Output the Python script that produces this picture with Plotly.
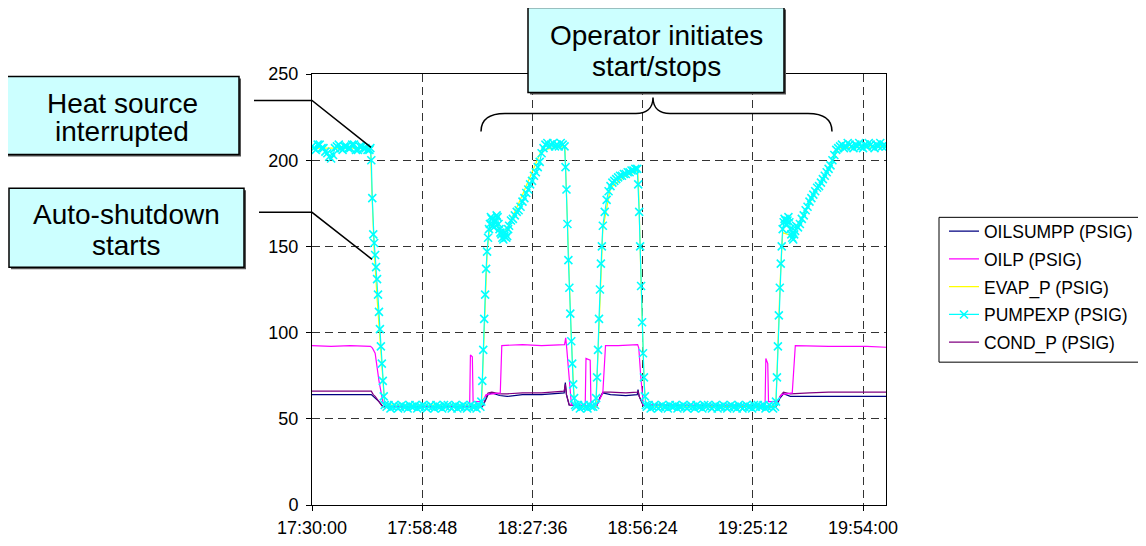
import pandas as pd
import plotly.graph_objects as go

# ---------------- data (minutes after 17:30:00, PSIG) ----------------
pump_t = [0, 0.5, 1, 1.5, 2, 2.5, 3, 3.5, 4, 4.5, 5, 5.5, 6, 6.5, 7, 7.5, 8, 8.5, 9, 9.5, 10, 10.5, 11, 11.5, 12, 12.5, 13, 13.5, 14, 14.5, 15,
          15.25, 15.5, 15.75, 16, 16.25, 16.5, 16.75, 17, 17.25, 17.5, 17.75, 18, 18.25, 18.5, 18.75, 19,
          19.5, 20, 20.5, 21, 21.5, 22, 22.5, 23, 23.5, 24, 24.5, 25, 25.5, 26, 26.5, 27, 27.5, 28, 28.5, 29, 29.5, 30, 30.5, 31, 31.5,
          32, 32.5, 33, 33.5, 34, 34.5, 35, 35.5, 36, 36.5, 37, 37.5, 38, 38.5, 39, 39.5, 40, 40.5, 41, 41.5, 42, 42.5, 43, 43.5, 44,
          44.25, 44.5, 44.75, 45, 45.25, 45.5, 45.75, 46, 46.25, 46.5, 46.75, 47, 47.25, 47.5, 47.75, 48, 48.25, 48.5, 48.75, 49,
          49.25, 49.5, 49.75, 50, 50.25, 50.5, 50.75, 51, 51.25, 51.5,
          52, 52.5, 53, 53.5, 54, 54.5, 55, 55.5, 56, 56.5, 57, 57.5, 58, 58.5, 59, 59.5,
          60, 60.5, 61, 61.5, 62, 62.5, 63, 63.5, 64, 64.5, 65, 65.5, 66,
          66.25, 66.5, 66.75, 67, 67.25, 67.5, 67.75, 68, 68.25, 68.5, 68.75,
          69, 69.5, 70, 70.5, 71, 71.5, 72, 72.5, 73, 73.5, 74,
          74.25, 74.5, 74.75, 75, 75.25, 75.5, 75.75, 76, 76.5, 77, 77.5, 78, 78.5, 79, 79.5, 80, 80.5, 81, 81.5, 82,
          82.5, 83, 83.5, 84, 84.5, 85,
          85.25, 85.5, 85.75, 86, 86.25, 86.5, 86.75, 87, 87.25,
          87.5, 88, 88.5, 89, 89.5, 90, 90.5, 91, 91.5, 92,
          92.5, 93, 93.5, 94, 94.5, 95, 95.5, 96, 96.5, 97,
          97.5, 98, 98.5, 99, 99.5, 100, 100.5, 101, 101.5, 102,
          102.5, 103, 103.5, 104, 104.5, 105, 105.5, 106, 106.5, 107,
          107.5, 108, 108.5, 109, 109.5, 110, 110.5, 111, 111.5, 112,
          112.5, 113, 113.5, 114, 114.5, 115, 115.5, 116, 116.5, 117,
          117.5, 118, 118.5, 119, 119.5, 120, 120.5, 121,
          121.25, 121.5, 121.75, 122, 122.25, 122.5, 122.75, 123, 123.25, 123.5, 123.75, 124, 124.25, 124.5, 124.75,
          125, 125.25, 125.5, 125.75, 126, 126.25, 126.5,
          127, 127.5, 128, 128.5, 129, 129.5, 130, 130.5, 131, 131.5, 132, 132.5, 133, 133.5, 134, 134.5, 135, 135.5, 136, 136.5,
          137, 137.5, 138, 138.5, 139, 139.5, 140, 140.5, 141, 141.5, 142, 142.5, 143, 143.5, 144, 144.5, 145, 145.5, 146, 146.5,
          147, 147.5, 148, 148.5, 149, 149.5, 150]
pump_v = [208, 207, 206, 209, 209, 207, 207, 205, 204, 202, 201, 203, 207, 208, 209, 207, 206, 208, 208, 207, 207, 209, 209, 206, 206, 208, 208, 207, 207, 206, 206,
          207, 200, 178, 157, 152, 145, 138, 131, 122, 112, 102, 92, 82, 72, 63, 58,
          57, 58, 56, 57, 58, 57, 56, 57, 58, 57, 57, 56, 58, 57, 57, 58, 56, 57, 57, 58, 57, 56, 57, 58, 57,
          56, 58, 57, 57, 56, 58, 57, 58, 57, 56, 57, 58, 56, 57, 57, 58, 57, 56, 57, 58, 57, 57, 56, 58, 57,
          60, 72, 90, 108, 122, 137, 147, 155, 160, 163, 167, 166, 162, 161, 164, 165, 168, 167, 163, 160,
          158, 157, 155, 154, 156, 158, 155, 156, 160, 162,
          165, 166, 168, 170, 171, 173, 176, 178, 181, 183, 186, 188, 191, 193, 196, 199,
          204, 207, 209, 210, 208, 209, 210, 208, 209, 208, 210, 209, 208,
          196, 183, 163, 142, 126, 111, 95, 82, 70, 62, 58,
          57, 58, 56, 57, 58, 57, 56, 58, 57, 57, 58,
          62, 74, 90, 108, 125, 140, 150, 162, 170, 177, 182, 185, 187, 188, 189, 190, 191, 191, 192, 192,
          193, 193, 194, 194, 195, 195,
          186, 170, 150, 127, 106, 88, 74, 63, 58,
          57, 58, 56, 57, 58, 57, 56, 57, 58, 57,
          57, 56, 58, 57, 57, 58, 56, 57, 57, 58,
          57, 56, 57, 58, 57, 56, 58, 57, 57, 56,
          58, 57, 58, 57, 56, 57, 58, 56, 57, 57,
          58, 57, 56, 57, 58, 57, 57, 56, 58, 57,
          56, 57, 58, 57, 57, 56, 58, 57, 58, 57,
          57, 58, 56, 57, 58, 57, 56, 57,
          60, 74, 92, 110, 126, 140, 150, 160, 164, 166, 165, 163, 165, 167, 164,
          160, 157, 155, 154, 157, 159, 162,
          161, 163, 166, 168, 171, 173, 176, 178, 180, 182, 184, 185, 187, 189, 191, 193, 195, 197, 200, 203,
          206, 207, 208, 209, 207, 208, 210, 209, 208, 207, 209, 208, 210, 208, 207, 209, 208, 210, 209, 208,
          207, 209, 208, 210, 208, 209, 208]

oilp_t = [0, 5, 10, 15.3, 15.8, 16.5, 17.5, 18.5, 19.5, 41.0, 41.2, 41.4, 41.9, 42.1, 44.5, 45.5,
          49.2, 49.6, 55, 60, 66.0, 66.3, 66.6, 67.2, 67.8, 71.4, 71.6, 72.7, 72.9, 74.5, 75.5,
          76.0, 76.7, 80, 85.1, 85.4, 85.9, 86.6, 118.4, 118.6, 119.1, 119.3, 121.5, 122.7,
          125.5, 126.3, 135, 145, 150]
oilp_v = [92.5, 92, 92.5, 92, 91, 88, 72, 60, 57, 57, 58, 87, 86, 60, 60, 64,
          65, 92.5, 93, 92.5, 93, 97, 90, 72, 58, 58, 85, 84, 58, 58, 63,
          65, 92.5, 92.5, 93, 91, 75, 58, 58, 85, 82, 60, 60, 64,
          65, 92.5, 92, 92, 91.5]

sump_t = [0, 15.5, 16.0, 16.5, 17.5, 18.5, 44.5, 45.2, 46.0, 47, 49, 51, 55, 60, 65, 65.9, 66.2, 66.5,
          67.2, 74.3, 75.2, 76.0, 78, 82, 85, 85.2, 85.5, 86.5, 121.3, 122.3, 123.2, 125, 130, 140, 150]
sump_v = [64, 64, 63, 62, 60, 57, 57, 60, 64, 65, 63.5, 63, 64, 64, 64.5, 65, 71, 64,
          58, 57, 62, 65, 64, 63.5, 64, 67, 63, 58, 57, 62, 64.5, 63, 63, 63, 63]

evap_t = [0, 15.3, 15.6, 16.2, 17.0, 18.0, 19.0, 44.3, 44.6, 45.2, 45.8, 46.5, 48, 50, 52, 55, 58, 60,
          66.1, 66.4, 67.0, 67.7, 68.5, 69, 74.2, 74.6, 75.3, 76, 78, 82, 85.1, 85.4, 86, 86.8, 87.3,
          121.2, 121.6, 122.3, 123, 125.5, 130, 135, 137.5, 150]
evap_v = [207, 207, 185, 150, 120, 88, 58, 58, 75, 115, 148, 162, 164, 156, 165, 180, 195, 206,
          208, 188, 145, 100, 62, 57, 57, 80, 128, 160, 184, 191, 194, 180, 128, 70, 57,
          57, 82, 128, 158, 156, 175, 195, 207, 208]

cond_t = [0, 15.5, 16.0, 16.5, 17.5, 18.5, 44.5, 45.2, 46.0, 47, 49, 51, 55, 60, 65, 65.9, 66.2, 66.5,
          67.2, 74.3, 75.2, 76.0, 78, 82, 85, 85.2, 85.5, 86.5, 121.3, 122.3, 123.2, 125, 130, 135, 140, 150]
cond_v = [66, 66, 64, 63, 60, 57, 57, 61, 65, 65.5, 64.5, 64.5, 65, 65, 65.5, 66, 70, 64,
          58, 57, 62, 65.5, 65.5, 65, 65.5, 66, 63, 58, 57, 63, 65.5, 64.5, 65, 65.5, 65.5, 65.5]

series_names = ["OILSUMPP (PSIG)", "OILP (PSIG)", "EVAP_P (PSIG)", "PUMPEXP (PSIG)", "COND_P (PSIG)"]
tick_labels = ["17:30:00", "17:58:48", "18:27:36", "18:56:24", "19:25:12", "19:54:00"]
y_ticks = [0, 50, 100, 150, 200, 250]

# ---------------- helpers ----------------
DAY = "2024-01-01 "
base = pd.Timestamp(DAY + "17:30:00")


def to_x(t):
    return base + pd.to_timedelta(t, unit="min")


# page-pixel geometry (the page body has an 8px margin)
OFF = 8
PL, PR, PT, PB = 312, 886, 73.5, 505
W, H = 1138, 530
ML, MT = PL - OFF, PT - OFF
MR, MB = W - (PR - OFF), H - (PB - OFF)


def X(px):
    return (px - PL) / (PR - PL)


def Y(py):
    return (PB - py) / (PB - PT)


FONT = "Liberation Sans, Arial, sans-serif"

fig = go.Figure()
fig.add_trace(go.Scatter(x=to_x(sump_t), y=sump_v, name=series_names[0], mode="lines",
                         line=dict(color="#000080", width=1.2), legendrank=1, legendgroup="a"))
fig.add_trace(go.Scatter(x=to_x(cond_t), y=cond_v, name=series_names[4], mode="lines",
                         line=dict(color="#800080", width=1.2), legendrank=5, legendgroup="e"))
fig.add_trace(go.Scatter(x=to_x(oilp_t), y=oilp_v, name=series_names[1], mode="lines",
                         line=dict(color="#FF00FF", width=1.2), legendrank=2, legendgroup="b"))
fig.add_trace(go.Scatter(x=to_x(evap_t), y=evap_v, name=series_names[2], mode="lines",
                         line=dict(color="#FFFF00", width=1.2), legendrank=3, legendgroup="c"))
fig.add_trace(go.Scatter(x=to_x(pump_t), y=pump_v, name=series_names[3], mode="lines+markers",
                         line=dict(color="#00FFFF", width=1.2),
                         marker=dict(symbol="x-thin", size=8, color="#00FFFF",
                                     line=dict(color="#00FFFF", width=1.6)),
                         legendrank=4, legendgroup="d"))

shapes = []
# legend frame
shapes.append(dict(type="rect", xref="paper", yref="paper", x0=X(939), x1=X(1139),
                   y0=Y(217), y1=Y(362), line=dict(color="black", width=1), fillcolor="white",
                   layer="below"))
boxes = [(5, 76, 239, 154), (9, 188, 244, 267), (528, 7, 784, 92)]
for (x0, y0, x1, y1) in boxes:
    shapes.append(dict(type="rect", xref="paper", yref="paper", x0=X(x0 + 2), x1=X(x1 + 2),
                       y0=Y(y0 + 2), y1=Y(y1 + 2), line=dict(width=0), fillcolor="#555555", layer="above"))
    shapes.append(dict(type="rect", xref="paper", yref="paper", x0=X(x0), x1=X(x1),
                       y0=Y(y0), y1=Y(y1), line=dict(color="black", width=1.5),
                       fillcolor="#CCFFFF", layer="above"))


def path(points_cmds):
    out = []
    for cmd, pts in points_cmds:
        coords = " ".join(f"{X(px):.5f},{Y(py):.5f}" for px, py in pts)
        out.append(f"{cmd} {coords}")
    return " ".join(out)


leader1 = path([("M", [(254, 100)]), ("L", [(312, 100)]), ("L", [(371, 147)])])
leader2 = path([("M", [(259, 212)]), ("L", [(312, 212)]), ("L", [(372, 259)])])
brace = path([("M", [(481, 131)]), ("C", [(481, 118), (490, 113), (505, 113)]), ("L", [(636, 113)]),
              ("C", [(646, 113), (653, 108), (653, 97)]), ("C", [(653, 108), (660, 113), (670, 113)]),
              ("L", [(808, 113)]), ("C", [(823, 113), (832, 118), (832, 131)])])
for p in (leader1, leader2, brace):
    shapes.append(dict(type="path", xref="paper", yref="paper", path=p,
                       line=dict(color="black", width=1.5), layer="above"))

annotations = []
texts = [("Heat source", 122, 103), ("interrupted", 122, 131),
         ("Auto-shutdown", 126, 214), ("starts", 126, 245),
         ("Operator initiates", 656, 35), ("start/stops", 656, 66)]
for txt, px, py in texts:
    annotations.append(dict(text=txt, x=X(px), y=Y(py), xref="paper", yref="paper",
                            xanchor="center", yanchor="middle", showarrow=False,
                            font=dict(family=FONT, size=28, color="black")))

fig.update_layout(
    width=W, height=H,
    margin=dict(l=ML, r=MR, t=MT, b=MB, autoexpand=False),
    paper_bgcolor="white", plot_bgcolor="white",
    font=dict(family=FONT, size=18, color="black"),
    showlegend=True,
    legend=dict(x=X(944), y=Y(213), xanchor="left", yanchor="top",
                bgcolor="rgba(0,0,0,0)", borderwidth=0, tracegroupgap=2,
                font=dict(family=FONT, size=17.5, color="black")),
    shapes=shapes,
    annotations=annotations,
)
fig.update_xaxes(
    range=[DAY + "17:30:00", DAY + "20:00:00"],
    tickmode="array", tickvals=[DAY + s for s in tick_labels], ticktext=tick_labels,
    showgrid=True, gridcolor="#333333", griddash="8px,5px", gridwidth=1,
    showline=True, linecolor="black", linewidth=1, mirror=True,
    ticks="outside", ticklen=5, tickcolor="black", zeroline=False, ticklabelstandoff=1,
)
fig.update_yaxes(
    range=[0, 250], tickmode="array", tickvals=y_ticks,
    showgrid=True, gridcolor="#333333", griddash="8px,5px", gridwidth=1,
    showline=True, linecolor="black", linewidth=1, mirror=True,
    ticks="outside", ticklen=5, tickcolor="black", zeroline=False, ticklabelstandoff=4,
)

fig.write_html("out.html")
